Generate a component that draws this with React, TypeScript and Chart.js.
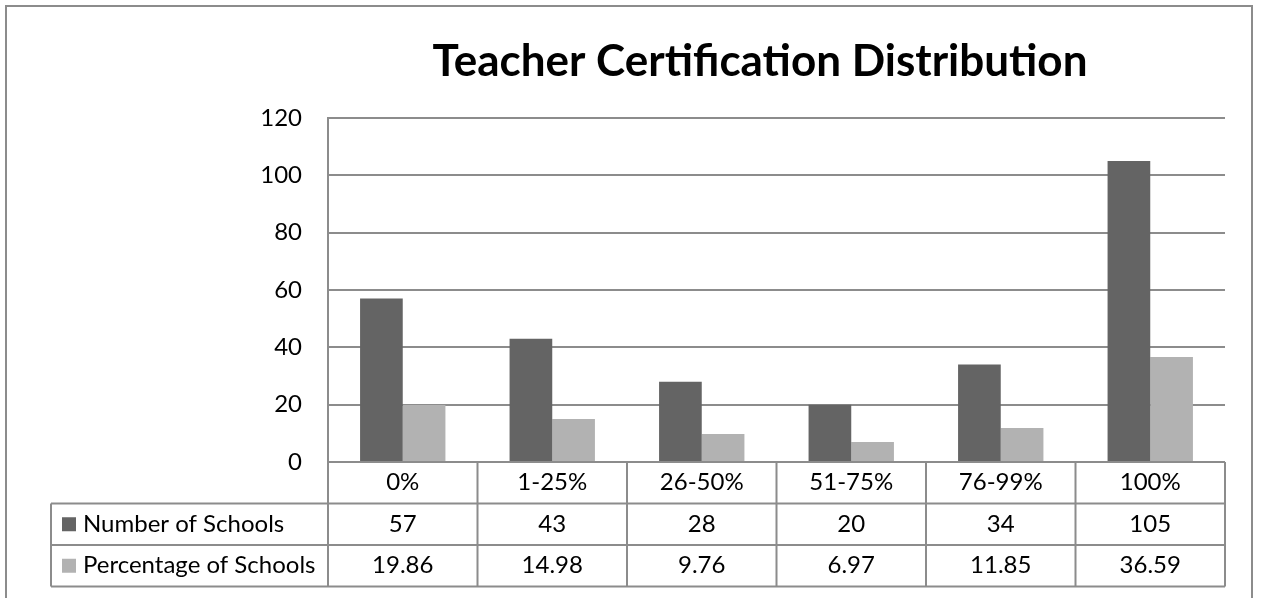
import React, { useEffect, useRef } from "react";
import { Chart, registerables } from "chart.js";

Chart.register(...registerables);

const TITLE = "Teacher Certification Distribution";
const categories = ["0%", "1-25%", "26-50%", "51-75%", "76-99%", "100%"];
const numberOfSchools = [57, 43, 28, 20, 34, 105];
const percentageOfSchools = [19.86, 14.98, 9.76, 6.97, 11.85, 36.59];
const numberLabels = ["57", "43", "28", "20", "34", "105"];
const percentLabels = ["19.86", "14.98", "9.76", "6.97", "11.85", "36.59"];
const seriesNames = ["Number of Schools", "Percentage of Schools"];
const yTicks = [0, 20, 40, 60, 80, 100, 120];

const DARK = "#646464";
const LIGHT = "#b2b2b2";
const LINE = "#8c8c8c";
const FONT = "Lato, 'Open Sans', sans-serif";

const tablePlugin = {
  id: "dataTable",
  afterDraw(chart: any) {
    const ctx = chart.ctx;
    const xs = chart.scales.x;
    const ys = chart.scales.y;
    const area = chart.chartArea;
    const y0 = ys.getPixelForValue(0);
    const rowH = 41.5;
    const legendLeft = 51;
    const n = categories.length;
    const bounds: number[] = [area.left];
    for (let i = 0; i < n - 1; i++) {
      bounds.push((xs.getPixelForValue(i) + xs.getPixelForValue(i + 1)) / 2);
    }
    bounds.push(area.right);
    const bottom = y0 + rowH * 3;

    ctx.save();
    // outer chart border
    ctx.strokeStyle = LINE;
    ctx.lineWidth = 2;
    ctx.strokeRect(6, 6, chart.width - 15, chart.height + 40);

    // table lines
    ctx.beginPath();
    for (let r = 1; r <= 3; r++) {
      const y = y0 + rowH * r;
      ctx.moveTo(legendLeft, y);
      ctx.lineTo(area.right, y);
    }
    ctx.moveTo(legendLeft, y0 + rowH);
    ctx.lineTo(legendLeft, bottom);
    ctx.moveTo(area.left, area.top);
    ctx.lineTo(area.left, bottom);
    for (let i = 1; i < bounds.length; i++) {
      ctx.moveTo(bounds[i], y0);
      ctx.lineTo(bounds[i], bottom);
    }
    ctx.stroke();

    // text
    ctx.fillStyle = "#000";
    ctx.font = `24px ${FONT}`;
    ctx.textBaseline = "middle";
    ctx.textAlign = "center";
    const rowsText = [categories, numberLabels, percentLabels];
    rowsText.forEach((row, r) => {
      const cy = y0 + rowH * r + rowH / 2;
      row.forEach((t, i) => {
        const cx = (bounds[i] + bounds[i + 1]) / 2;
        ctx.fillText(t, cx, cy);
      });
    });
    // legend column
    ctx.textAlign = "left";
    [DARK, LIGHT].forEach((c, r) => {
      const cy = y0 + rowH * (r + 1) + rowH / 2;
      ctx.fillStyle = c;
      ctx.fillRect(62, cy - 7, 14, 14);
      ctx.fillStyle = "#000";
      ctx.fillText(seriesNames[r], 83, cy);
    });

    // title
    ctx.font = `bold 44px ${FONT}`;
    ctx.textAlign = "center";
    ctx.textBaseline = "alphabetic";
    ctx.fillText(TITLE, 760, 76);
    ctx.restore();
  },
};

export default function App() {
  const ref = useRef<HTMLCanvasElement | null>(null);
  useEffect(() => {
    if (!ref.current) return;
    const chart = new Chart(ref.current, {
      type: "bar",
      data: {
        labels: categories,
        datasets: [
          {
            label: seriesNames[0],
            data: numberOfSchools,
            backgroundColor: DARK,
            categoryPercentage: 0.571,
            barPercentage: 1,
          },
          {
            label: seriesNames[1],
            data: percentageOfSchools,
            backgroundColor: LIGHT,
            categoryPercentage: 0.571,
            barPercentage: 1,
          },
        ],
      },
      options: {
        animation: false,
        responsive: false,
        maintainAspectRatio: false,
        layout: { padding: { left: 0, right: 36, top: 118, bottom: 136 } },
        plugins: {
          legend: { display: false },
          title: { display: false },
          tooltip: { enabled: false },
        },
        scales: {
          x: {
            ticks: { display: false },
            grid: { display: false, drawTicks: false },
            border: { display: false },
          },
          y: {
            min: 0,
            max: 120,
            afterFit: (scale: any) => {
              scale.width = 328;
            },
            afterBuildTicks: (scale: any) => {
              scale.ticks = yTicks.map((v) => ({ value: v }));
            },
            ticks: {
              stepSize: 20,
              padding: 26,
              color: "#000",
              font: { family: FONT, size: 24 },
            },
            grid: { color: LINE, lineWidth: 2, drawTicks: false },
            border: { display: true, color: LINE, width: 2 },
          },
        },
      },
      plugins: [tablePlugin],
    });
    return () => chart.destroy();
  }, []);
  return (
    <div style={{ position: "fixed", left: 0, top: 0, width: 1261, height: 598, background: "#fff" }}>
      <canvas ref={ref} width={1261} height={598} style={{ width: 1261, height: 598, display: "block" }} />
    </div>
  );
}
